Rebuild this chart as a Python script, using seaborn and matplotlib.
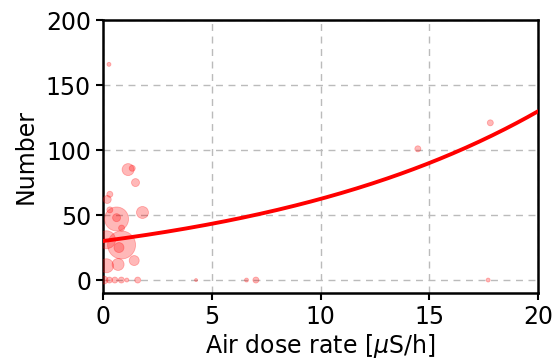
import numpy as np
import pandas as pd
import matplotlib
matplotlib.use("Agg")
import matplotlib.pyplot as plt
import seaborn as sns

# Observed points: air dose rate [uS/h], number, bubble radius [px]
dose_rate = [1.16, 1.35, 1.50, 0.32, 0.20, 0.32, 0.63, 0.63, 1.82, 0.86,
             0.86, 0.74, 0.17, 0.17, 0.70, 1.44, 0.28, 14.47, 17.8,
             0.05, 0.30, 0.55, 0.85, 1.10, 1.60, 4.28, 6.60, 7.03, 17.7]
number = [85, 86, 75, 66, 62, 54, 47, 48, 52, 40,
          27, 25, 31, 11, 12, 15, 166, 101, 121,
          0, 0, 0, 0, 0, 0, 0, 0, 0, 0]
radius_px = [6, 3, 4, 3, 4, 3, 12, 4, 6, 3,
             14, 5, 9, 7, 6, 5, 2, 3, 3,
             4, 3, 3, 3, 2, 3, 1.5, 2, 3, 2]

# exponential fit y = a * exp(b * x)
fit_a = 30.0
fit_b = 0.0733

df = pd.DataFrame({"dose": dose_rate, "number": number,
                   "s": [(1.44 * r) ** 2 for r in radius_px]})

sns.set_style("white")
plt.rcParams['font.family'] = ['DejaVu Sans']
plt.rcParams['text.color'] = 'black'
plt.rcParams['axes.labelcolor'] = 'black'
plt.rcParams['xtick.color'] = 'black'
plt.rcParams['ytick.color'] = 'black'

fig = plt.figure(figsize=(5.56, 3.6), dpi=100)
ax = fig.add_axes([0.185, 0.186, 0.783, 0.758])

ax.scatter(df["dose"], df["number"], s=df["s"], color="red", alpha=0.28,
           edgecolors="red", linewidths=0.6, zorder=3)

xs = np.linspace(0, 20, 200)
sns.lineplot(x=xs, y=fit_a * np.exp(fit_b * xs), color="red", linewidth=2.8,
             ax=ax, zorder=4)

ax.set_xlim(0, 20)
ax.set_ylim(-10, 200)
ax.set_xticks([0, 5, 10, 15, 20])
ax.set_yticks([0, 50, 100, 150, 200])
ax.grid(True, linestyle=(0, (5, 4)), color="#bbbbbb", linewidth=1.0)
ax.set_axisbelow(True)

for sp in ax.spines.values():
    sp.set_color("black")
    sp.set_linewidth(1.8)
ax.tick_params(axis="both", labelsize=17, direction="out", length=5,
               width=1.5, colors="black", bottom=True, left=True)
ax.set_xlabel(r"Air dose rate [$\mu$S/h]", fontsize=17, labelpad=2)
ax.set_ylabel("Number", fontsize=17, labelpad=6)

fig.savefig("out.png", dpi=100)
